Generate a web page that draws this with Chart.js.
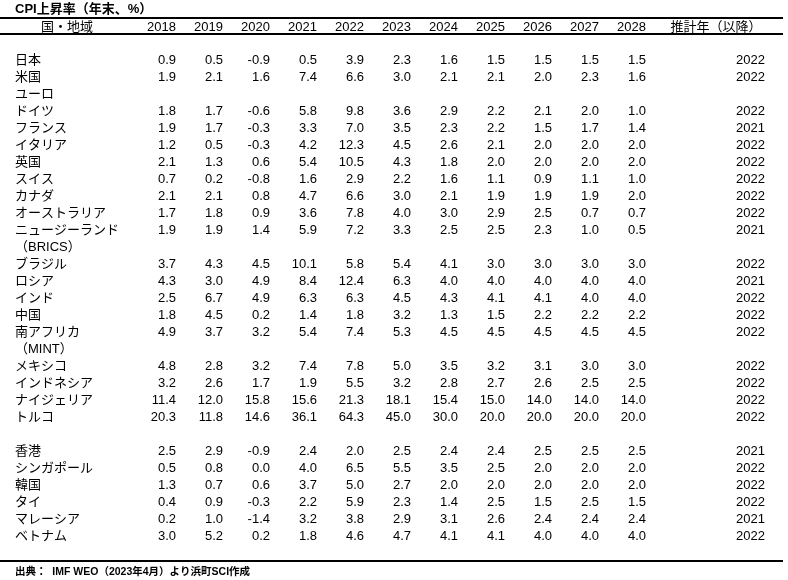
<!DOCTYPE html>
<html>
<head>
<meta charset="utf-8">
<script src="https://cdn.jsdelivr.net/npm/chart.js"></script>
<style>
  html, body { margin: 0; padding: 0; background: #fff; }
  #wrap { width: 788px; height: 580px; }
</style>
</head>
<body>
<div id="wrap"><canvas id="myChart"></canvas></div>
<script>
const title = 'CPI上昇率（年末、%）';
const source = '出典：  IMF WEO（2023年4月）より浜町SCI作成';
const headRegion = '国・地域';
const headEst = '推計年（以降）';

const years = ['2018', '2019', '2020', '2021', '2022', '2023', '2024', '2025', '2026', '2027', '2028'];

const regions = ['日本', '米国', 'ユーロ', 'ドイツ', 'フランス', 'イタリア', '英国', 'スイス', 'カナダ',
  'オーストラリア', 'ニュージーランド', '（BRICS）', 'ブラジル', 'ロシア', 'インド', '中国', '南アフリカ',
  '（MINT）', 'メキシコ', 'インドネシア', 'ナイジェリア', 'トルコ', '',
  '香港', 'シンガポール', '韓国', 'タイ', 'マレーシア', 'ベトナム'];

// one array per year, same order as regions (null = no value in that row)
const v2018 = [0.9, 1.9, null, 1.8, 1.9, 1.2, 2.1, 0.7, 2.1, 1.7, 1.9, null, 3.7, 4.3, 2.5, 1.8, 4.9, null, 4.8, 3.2, 11.4, 20.3, null, 2.5, 0.5, 1.3, 0.4, 0.2, 3.0];
const v2019 = [0.5, 2.1, null, 1.7, 1.7, 0.5, 1.3, 0.2, 2.1, 1.8, 1.9, null, 4.3, 3.0, 6.7, 4.5, 3.7, null, 2.8, 2.6, 12.0, 11.8, null, 2.9, 0.8, 0.7, 0.9, 1.0, 5.2];
const v2020 = [-0.9, 1.6, null, -0.6, -0.3, -0.3, 0.6, -0.8, 0.8, 0.9, 1.4, null, 4.5, 4.9, 4.9, 0.2, 3.2, null, 3.2, 1.7, 15.8, 14.6, null, -0.9, 0.0, 0.6, -0.3, -1.4, 0.2];
const v2021 = [0.5, 7.4, null, 5.8, 3.3, 4.2, 5.4, 1.6, 4.7, 3.6, 5.9, null, 10.1, 8.4, 6.3, 1.4, 5.4, null, 7.4, 1.9, 15.6, 36.1, null, 2.4, 4.0, 3.7, 2.2, 3.2, 1.8];
const v2022 = [3.9, 6.6, null, 9.8, 7.0, 12.3, 10.5, 2.9, 6.6, 7.8, 7.2, null, 5.8, 12.4, 6.3, 1.8, 7.4, null, 7.8, 5.5, 21.3, 64.3, null, 2.0, 6.5, 5.0, 5.9, 3.8, 4.6];
const v2023 = [2.3, 3.0, null, 3.6, 3.5, 4.5, 4.3, 2.2, 3.0, 4.0, 3.3, null, 5.4, 6.3, 4.5, 3.2, 5.3, null, 5.0, 3.2, 18.1, 45.0, null, 2.5, 5.5, 2.7, 2.3, 2.9, 4.7];
const v2024 = [1.6, 2.1, null, 2.9, 2.3, 2.6, 1.8, 1.6, 2.1, 3.0, 2.5, null, 4.1, 4.0, 4.3, 1.3, 4.5, null, 3.5, 2.8, 15.4, 30.0, null, 2.4, 3.5, 2.0, 1.4, 3.1, 4.1];
const v2025 = [1.5, 2.1, null, 2.2, 2.2, 2.1, 2.0, 1.1, 1.9, 2.9, 2.5, null, 3.0, 4.0, 4.1, 1.5, 4.5, null, 3.2, 2.7, 15.0, 20.0, null, 2.4, 2.5, 2.0, 2.5, 2.6, 4.1];
const v2026 = [1.5, 2.0, null, 2.1, 1.5, 2.0, 2.0, 0.9, 1.9, 2.5, 2.3, null, 3.0, 4.0, 4.1, 2.2, 4.5, null, 3.1, 2.6, 14.0, 20.0, null, 2.5, 2.0, 2.0, 1.5, 2.4, 4.0];
const v2027 = [1.5, 2.3, null, 2.0, 1.7, 2.0, 2.0, 1.1, 1.9, 0.7, 1.0, null, 3.0, 4.0, 4.0, 2.2, 4.5, null, 3.0, 2.5, 14.0, 20.0, null, 2.5, 2.0, 2.0, 2.5, 2.4, 4.0];
const v2028 = [1.5, 1.6, null, 1.0, 1.4, 2.0, 2.0, 1.0, 2.0, 0.7, 0.5, null, 3.0, 4.0, 4.0, 2.2, 4.5, null, 3.0, 2.5, 14.0, 20.0, null, 2.5, 2.0, 2.0, 1.5, 2.4, 4.0];
const estYear = [2022, 2022, null, 2022, 2021, 2022, 2022, 2022, 2022, 2022, 2021, null, 2022, 2021, 2022, 2022, 2022, null, 2022, 2022, 2022, 2022, null, 2021, 2022, 2022, 2022, 2021, 2022];

const yearValues = [v2018, v2019, v2020, v2021, v2022, v2023, v2024, v2025, v2026, v2027, v2028];

// layout (x in "year" units, y in row units; header row = 0, first region = 2)
const FONT = '"Liberation Sans", "Noto Sans CJK JP", sans-serif';
const colW = 47;                  // px per year column
const xMin = 2018 - 176 / colW;   // 2018 column right edge at 176px
const xMax = xMin + 788 / colW;
const rowH = 17;
const yMin = -26.5 / rowH;
const yMax = yMin + 580 / rowH;
const labelX = 2018 + (15 - 176) / colW;
const headRegionX = 2018 + (67 - 176) / colW;
const estX = 2018 + (765 - 176) / colW;
const headEstX = 2018 + (716 - 176) / colW;
const ruleEnd = 2018 + (783 - 176) / colW;
const firstRow = 2;

const datasets = [];
datasets.push({
  label: 'region', align: 'left',
  data: regions.map((r, i) => ({ x: labelX, y: i + firstRow, text: r }))
});
yearValues.forEach((arr, k) => {
  const pts = [];
  arr.forEach((v, i) => { if (v !== null) pts.push({ x: +years[k], y: i + firstRow, text: v.toFixed(1) }); });
  datasets.push({ label: years[k], align: 'right', data: pts });
});
const estPts = [];
estYear.forEach((v, i) => { if (v !== null) estPts.push({ x: estX, y: i + firstRow, text: String(v) }); });
datasets.push({ label: 'est', align: 'right', data: estPts });

const tablePlugin = {
  id: 'table',
  afterDatasetsDraw(chart) {
    const ctx = chart.ctx, sx = chart.scales.x, sy = chart.scales.y;
    ctx.save();
    ctx.fillStyle = '#000';
    ctx.textBaseline = 'middle';

    ctx.font = 'bold 13px ' + FONT;
    ctx.textAlign = 'left';
    ctx.fillText(title, sx.getPixelForValue(labelX), sy.getPixelForValue(-1.02));

    const x0 = sx.getPixelForValue(xMin), x1 = sx.getPixelForValue(ruleEnd);
    [-0.5, 0.45, 31.44].forEach(r => {
      const py = Math.round(sy.getPixelForValue(r));
      ctx.fillRect(x0, py - 1, x1 - x0, 2);
    });

    ctx.font = '13px ' + FONT;
    ctx.textAlign = 'center';
    ctx.fillText(headRegion, sx.getPixelForValue(headRegionX), sy.getPixelForValue(0.03));
    ctx.fillText(headEst, sx.getPixelForValue(headEstX), sy.getPixelForValue(0.03));
    ctx.textAlign = 'right';
    years.forEach(y => ctx.fillText(y, sx.getPixelForValue(+y), sy.getPixelForValue(0.03)));

    chart.data.datasets.forEach((ds, i) => {
      const meta = chart.getDatasetMeta(i);
      ctx.textAlign = ds.align;
      meta.data.forEach((pt, j) => ctx.fillText(ds.data[j].text, pt.x, pt.y));
    });

    ctx.font = 'bold 10.5px ' + FONT;
    ctx.textAlign = 'left';
    ctx.fillText(source, sx.getPixelForValue(labelX), sy.getPixelForValue(32.1));
    ctx.restore();
  }
};

new Chart('myChart', {
  type: 'scatter',
  data: { datasets: datasets },
  options: {
    responsive: true,
    maintainAspectRatio: false,
    animation: false,
    events: [],
    layout: { padding: 0 },
    elements: { point: { radius: 0, hoverRadius: 0 } },
    plugins: { legend: { display: false }, tooltip: { enabled: false } },
    scales: {
      x: { type: 'linear', display: false, min: xMin, max: xMax },
      y: { type: 'linear', display: false, reverse: true, min: yMin, max: yMax }
    }
  },
  plugins: [tablePlugin]
});
</script>
</body>
</html>
